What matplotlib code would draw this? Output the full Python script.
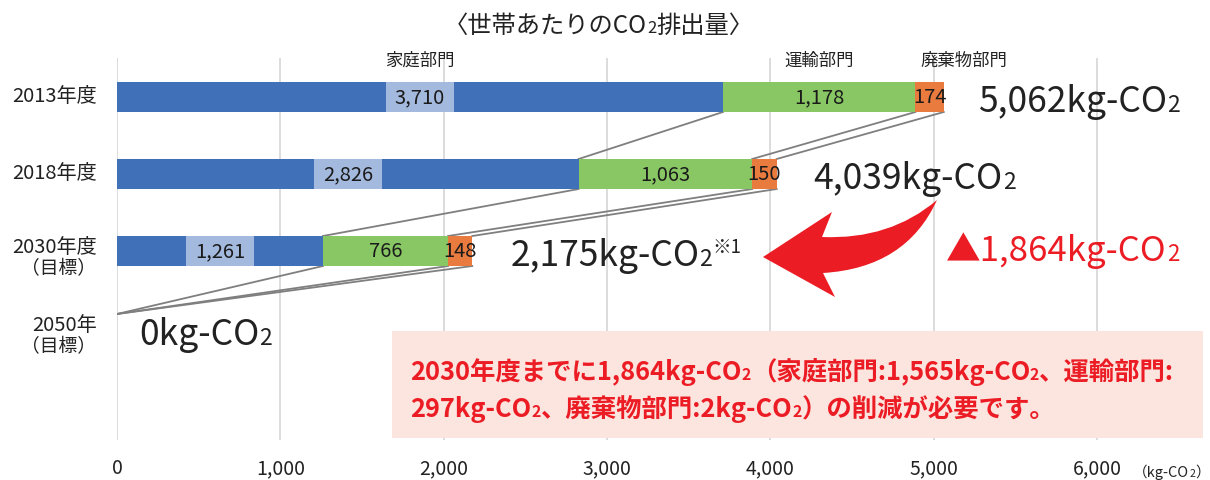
import matplotlib
matplotlib.use("Agg")
import matplotlib.pyplot as plt
from matplotlib.patches import PathPatch, Rectangle
from matplotlib.path import Path

plt.rcParams["font.family"] = ["Noto Sans CJK JP", "DejaVu Sans"]

# data (kg-CO2 per household)
years = ["2013年度", "2018年度", "2030年度", "2050年"]
year_notes = ["", "", "（目標）", "（目標）"]
sectors = ["家庭部門", "運輸部門", "廃棄物部門"]
household = [3710, 2826, 1261, 0]
transport = [1178, 1063, 766, 0]
waste = [174, 150, 148, 0]
x_ticks = [0, 1000, 2000, 3000, 4000, 5000, 6000]

COLORS = ["#3F70B8", "#88C763", "#E97B3F"]
LABEL_BOX = "#A3B9DE"
RED = "#EC1C24"

# layout (pixel based)
W, H = 1210, 480
PX0, PX_PER_KG = 117, 0.16333
AX_TOP, AX_BOT, AX_RIGHT = 58, 440, 1203
row_y = [97, 174, 251, 314]
bar_h = 30
year_base = [102, 179, 253, 331]
total_base = [112, 189, 266, 345]
total_dx = [34, 37, 38, 22]


def chain(ax, x, y, parts, coords="data", dx=0, **kw):
    """Draw text pieces one after another on a common baseline."""
    first_text, first_size = parts[0][:2]
    prev = ax.annotate(first_text, xy=(x, y), xycoords=coords, xytext=(dx, 0),
                       textcoords="offset pixels", fontsize=first_size,
                       va="baseline", ha="left", annotation_clip=False, **kw)
    for text, size, dy in parts[1:]:
        prev = ax.annotate(text, xy=(1, y), xycoords=(prev, coords), xytext=(0, dy),
                           textcoords="offset points", fontsize=size,
                           va="baseline", ha="left", annotation_clip=False, **kw)
    return prev


fig = plt.figure(figsize=(W / 100, H / 100), dpi=100)
ax = fig.add_axes([PX0 / W, (H - AX_BOT) / H, (AX_RIGHT - PX0) / W, (AX_BOT - AX_TOP) / H])
ax.set_xlim(0, (AX_RIGHT - PX0) / PX_PER_KG)
ax.set_ylim(AX_BOT, AX_TOP)
ax.set_xticks(x_ticks)
ax.set_xticklabels([f"{v:,}" for v in x_ticks])
ax.set_yticks([])
ax.grid(axis="x", color="#D9D9D9", lw=1.3)
ax.set_axisbelow(True)
ax.tick_params(axis="x", length=0, pad=13, labelsize=14, labelcolor="#222222")
for s in ax.spines.values():
    s.set_visible(False)

series = [household, transport, waste]
lefts = [0] * len(years)
ends = []
for vals, color in zip(series, COLORS):
    ax.barh(row_y, vals, left=lefts, height=bar_h, color=color, linewidth=0, zorder=2)
    for i, v in enumerate(vals):
        if v == 0:
            continue
        mid = lefts[i] + v / 2
        if vals is household:
            bw = 68 / PX_PER_KG
            ax.add_patch(Rectangle((mid - bw / 2, row_y[i] - bar_h / 2), bw, bar_h,
                                   color=LABEL_BOX, lw=0, zorder=3))
        ax.text(mid, row_y[i] + 1, f"{v:,}", ha="center", va="center",
                fontsize=14.5, color="#1a1a1a", zorder=4)
    lefts = [l + v for l, v in zip(lefts, vals)]
    ends.append(list(lefts))

# connector lines between rows
for i in range(len(years) - 1):
    y0 = row_y[i] + bar_h / 2
    y1 = row_y[i + 1] - (bar_h / 2 if sum(s[i + 1] for s in series) else 0)
    for cum in ends:
        ax.plot([cum[i], cum[i + 1]], [y0, y1], color="#7F7F7F", lw=1.3, zorder=1.5)

# sector names above the 2013 bar
starts = [0, household[0], household[0] + transport[0]]
sector_dx = [0, 0, 34]
for name, st, v, dx in zip(sectors, starts, [household[0], transport[0], waste[0]], sector_dx):
    ax.annotate(name, xy=(st + v / 2, 66), xytext=(dx, 0), textcoords="offset pixels",
                ha="center", va="baseline", fontsize=12.5, color="#222222",
                annotation_clip=False)

# totals
totals = [a + b + c for a, b, c in zip(household, transport, waste)]
for i, t in enumerate(totals):
    parts = [(f"{t:,}kg-CO", 25.5, 0), ("2", 16.5, 0)]
    if i == 2:
        parts.append(("※1", 13.5, 9))
    chain(ax, t, total_base[i], parts, dx=total_dx[i], color="#222222")

# overlay in pixel coordinates
ov = fig.add_axes([0, 0, 1, 1], zorder=3)
ov.set_xlim(0, W)
ov.set_ylim(H, 0)
ov.axis("off")

chain(ov, 444, 33, [("〈世帯あたりのCO", 17.5, 0), ("2", 12, 0), ("排出量〉", 17.5, 0)],
      color="#222222")

for name, note, yb in zip(years, year_notes, year_base):
    ov.text(97, yb, name, ha="right", va="baseline", fontsize=14.5, color="#222222")
    if note:
        ov.text(96, yb + 21, note, ha="right", va="baseline", fontsize=13.5, color="#222222")

chain(ov, 1133, 477, [("（kg-CO", 10.5, 0), ("2", 7.5, 0), ("）", 10.5, 0)], color="#222222")

# reduction arrow
arrow = Path(
    [(937, 200), (890, 240), (822, 237), (832, 212), (763, 257), (835, 297),
     (823, 273), (906, 268), (937, 200), (937, 200)],
    [Path.MOVETO, Path.CURVE3, Path.CURVE3, Path.LINETO, Path.LINETO, Path.LINETO,
     Path.LINETO, Path.CURVE3, Path.CURVE3, Path.CLOSEPOLY],
)
ov.add_patch(PathPatch(arrow, facecolor=RED, edgecolor="none"))

reduction = totals[1] - totals[2]
chain(ov, 946, 261, [(f"▲{reduction:,}kg-CO", 25, 0), ("2", 16, 0)], color=RED)

# summary box
ov.add_patch(Rectangle((392, 331), AX_RIGHT - 392, 107, color="#FCE4DF", lw=0))
d_house = household[1] - household[2]
d_trans = transport[1] - transport[2]
d_waste = waste[1] - waste[2]
bold = dict(color=RED, fontweight="bold")
chain(ov, 410, 380, [
    (f"2030年度までに{reduction:,}kg-CO", 18.3, 0), ("2", 11.5, 0),
    (f"（家庭部門:{d_house:,}kg-CO", 18.3, 0), ("2", 11.5, 0), ("、運輸部門:", 18.3, 0),
], **bold)
chain(ov, 410, 417, [
    (f"{d_trans}kg-CO", 18.3, 0), ("2", 11.5, 0),
    (f"、廃棄物部門:{d_waste}kg-CO", 18.3, 0), ("2", 11.5, 0), ("）の削減が必要です。", 18.3, 0),
], **bold)

fig.savefig("out.png", dpi=100)
